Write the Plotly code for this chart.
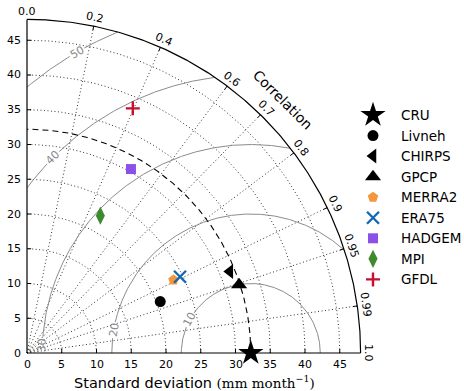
import numpy as np
import plotly.graph_objects as go

# ---------------- data ----------------
names = ["CRU", "Livneh", "CHIRPS", "GPCP", "MERRA2", "ERA75", "HADGEM", "MPI", "GFDL"]
std_dev = [32.2, 20.55, 31.45, 32.05, 23.55, 24.6, 30.4, 22.4, 38.35]
correlation = [1.0, 0.933, 0.928, 0.952, 0.895, 0.895, 0.492, 0.471, 0.397]
colors = ["black", "black", "black", "black", "#F5963C", "#1668B4", "#8B50E8", "#3D8B2E", "#C8102E"]
symbols = ["star", "circle", "triangle-left", "triangle-up", "pentagon", "x-thin", "square", "diamond-tall", "cross-thin"]
sizes = [19, 11, 13, 14, 11, 12, 10, 13, 10]

std_ticks = [0, 5, 10, 15, 20, 25, 30, 35, 40, 45]
corr_ticks = [0.0, 0.2, 0.4, 0.6, 0.7, 0.8, 0.9, 0.95, 0.99, 1.0]
corr_labels = ["0.0", "0.2", "0.4", "0.6", "0.7", "0.8", "0.9", "0.95", "0.99", "1.0"]
rms_levels = [10, 20, 30, 40, 50]
rms_label_angle = [151.5, 170.5, 177.8, 135.4, 120.0]  # degrees around the reference point
RMAX = 48
ref_std = std_dev[0]

FONT = "DejaVu Sans"
W, H = 464, 391
S = 6.95                 # px per data unit
OX, OY = 27.0, 353.0     # pixel position of the origin
X0, X1 = -0.6, 48.6      # axis range (both axes)
LEG_L = 366.0            # left pixel of legend subplot

fig = go.Figure()


def add_line(x, y, **line):
    fig.add_trace(go.Scatter(x=x, y=y, mode="lines", line=line,
                             hoverinfo="skip", showlegend=False))


th = np.linspace(0, np.pi / 2, 300)
GRID = "rgba(0,0,0,0.8)"
# std dotted arcs
for r in std_ticks[1:]:
    add_line(r * np.cos(th), r * np.sin(th), color=GRID, width=1, dash="1px,2.5px")
# correlation dotted radial lines
for c in corr_ticks[1:-1]:
    a = np.arccos(c)
    add_line([0, RMAX * np.cos(a)], [0, RMAX * np.sin(a)], color=GRID, width=1, dash="1px,2.5px")

# RMS contours
phi = np.linspace(0, np.pi, 1500)
for R, la in zip(rms_levels, rms_label_angle):
    x = ref_std + R * np.cos(phi)
    y = R * np.sin(phi)
    ok = (x >= 0) & (x ** 2 + y ** 2 <= RMAX ** 2)
    gap = 8.0 / (R * S)
    ok &= np.abs(phi - np.radians(la)) > gap
    x = np.where(ok, x, np.nan)
    y = np.where(ok, y, np.nan)
    add_line(x, y, color="#8c8c8c", width=1)

# reference std dashed arc
add_line(ref_std * np.cos(th), ref_std * np.sin(th), color="black", width=1.1, dash="6px,4px")

# frame
add_line([0, 0], [0, RMAX], color="black", width=1.2)
add_line([0, RMAX], [0, 0], color="black", width=1.2)
add_line(RMAX * np.cos(th), RMAX * np.sin(th), color="black", width=1.2)

# std ticks (inward)
tl = 0.6
for v in std_ticks[1:]:
    add_line([v, v], [0, tl], color="black", width=1)
    add_line([0, tl], [v, v], color="black", width=1)
# correlation ticks
for c in corr_ticks[1:-1]:
    a = np.arccos(c)
    add_line([RMAX * np.cos(a), (RMAX - tl) * np.cos(a)],
             [RMAX * np.sin(a), (RMAX - tl) * np.sin(a)], color="black", width=1)


def make_marker(col, sym, sz):
    m = dict(symbol=sym, size=sz, color=col)
    if sym in ("x-thin", "cross-thin"):
        m["line"] = dict(color=col, width=2.4)
    else:
        m["line"] = dict(width=0)
    return m


# data points
for n, s, c, col, sym, sz in zip(names, std_dev, correlation, colors, symbols, sizes):
    a = np.arccos(c)
    fig.add_trace(go.Scatter(x=[s * np.cos(a)], y=[s * np.sin(a)], mode="markers",
                             name=n, marker=make_marker(col, sym, sz), cliponaxis=False,
                             showlegend=False))

ann = []


def note_px(xp, yp, text, **kw):
    d = dict(xref="paper", yref="paper", x=xp / W, y=1 - yp / H, text=text, showarrow=False,
             xanchor="center", yanchor="middle")
    d.update(kw)
    ann.append(d)


def note(x, y, text, **kw):
    note_px(OX + x * S, OY - y * S, text, **kw)


# legend (drawn by hand in a small pixel-unit subplot on the right)
LEG_X, LEG_Y0, LEG_DY = 373.0, 115.0, 20.55
for i, (n, col, sym, sz) in enumerate(zip(names, colors, symbols, sizes)):
    ypx = LEG_Y0 + i * LEG_DY
    fig.add_trace(go.Scatter(x=[LEG_X], y=[ypx], mode="markers", name=n,
                             marker=make_marker(col, sym, sz), cliponaxis=False,
                             showlegend=False, hoverinfo="skip", xaxis="x2", yaxis="y2"))
    note_px(399, ypx, n, xanchor="left", font=dict(size=13.5, family=FONT, color="black"))

# tick labels
for v in std_ticks:
    note(v, 0, str(v), yshift=-11, font=dict(size=11, family=FONT, color="black"))
    note(0, v, str(v), xanchor="right", xshift=-4, font=dict(size=11, family=FONT, color="black"))
for c, lab in zip(corr_ticks, corr_labels):
    a = np.arccos(c)
    rl = 49.2
    note(rl * np.cos(a), rl * np.sin(a), lab, textangle=90 - np.degrees(a),
         font=dict(size=11, family=FONT, color="black"))
# RMS labels
for R, la in zip(rms_levels, rms_label_angle):
    p = np.radians(la)
    note(ref_std + R * np.cos(p), R * np.sin(p), str(R), textangle=-(la - 90),
         font=dict(size=11, family=FONT, color="#888888"))
# axis titles
note(36.83, 36.4, "Correlation", textangle=45, font=dict(size=14, family=FONT, color="black"))
note_px(194.7, 381.5,
        'Standard deviation <span style="font-family:DejaVu Serif;font-size:13.5px">(mm month<sup>−1</sup>)</span>',
        font=dict(size=14.5, family=FONT, color="black"))

xd0 = (OX + X0 * S) / W
xd1 = (OX + X1 * S) / W
yd0 = 1 - (OY - X0 * S) / H
yd1 = 1 - (OY - X1 * S) / H

fig.update_layout(
    width=W, height=H,
    margin=dict(l=0, r=0, t=0, b=0, pad=0),
    plot_bgcolor="rgba(0,0,0,0)", paper_bgcolor="white",
    xaxis=dict(range=[X0, X1], domain=[xd0, xd1], visible=False, fixedrange=True),
    yaxis=dict(range=[X0, X1], domain=[yd0, yd1], visible=False, fixedrange=True),
    xaxis2=dict(range=[LEG_L, W], domain=[LEG_L / W, 1], visible=False, fixedrange=True, anchor="y2"),
    yaxis2=dict(range=[H, 0], domain=[0, 1], visible=False, fixedrange=True, anchor="x2"),
    annotations=ann,
    showlegend=False,
    font=dict(family=FONT),
)

fig.write_html("out.html")
